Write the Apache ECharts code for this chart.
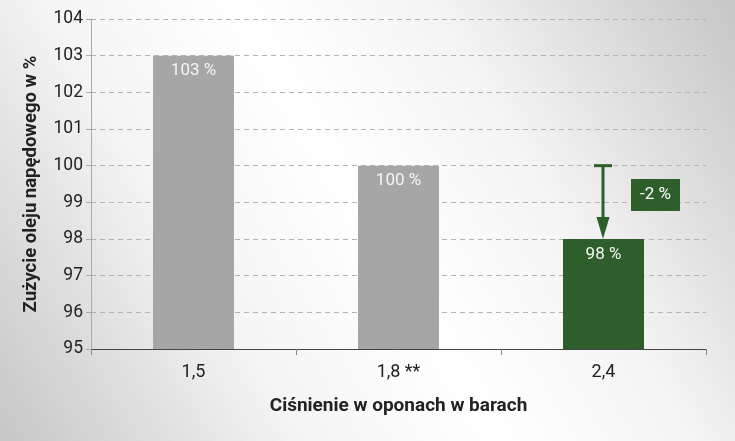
<!DOCTYPE html>
<html>
<head>
<meta charset="utf-8">
<script src="https://cdn.jsdelivr.net/npm/echarts@6/dist/echarts.min.js"></script>
<style>html,body{margin:0;padding:0;}#c{width:735px;height:441px;}</style>
</head>
<body>
<div id="c"></div>
<script>
const categories = ['1,5', '1,8 **', '2,4'];
const values = [103, 100, 98];
const barLabels = ['103 %', '100 %', '98 %'];
const yTicks = [95, 96, 97, 98, 99, 100, 101, 102, 103, 104];
const changeFrom = 100;
const changeTo = 98;
const changeLabel = '-2 %';
const changeLabelAt = 99.2;

const GRAY = '#a6a6a6';
const GREEN = '#2e5e2a';
const FONT = 'Roboto';

const chart = echarts.init(document.getElementById('c'));
chart.setOption({
  animation: false,
  backgroundColor: {
    type: 'linear', x: 1, y: 0, x2: 0, y2: 1,
    colorStops: [
      {offset: 0, color: '#c6c6c6'},
      {offset: 0.3, color: '#f4f4f4'},
      {offset: 0.5, color: '#ffffff'},
      {offset: 0.7, color: '#f4f4f4'},
      {offset: 1, color: '#c6c6c6'}
    ]
  },
  grid: {left: 91, right: 29, top: 19, bottom: 92},
  xAxis: {
    type: 'category',
    data: categories,
    name: 'Ciśnienie w oponach w barach',
    nameLocation: 'middle',
    nameGap: 48,
    nameTextStyle: {fontFamily: FONT, fontSize: 19, fontWeight: 'bold', color: '#222'},
    axisLine: {lineStyle: {color: '#444', width: 1}},
    axisTick: {show: true, length: 6, lineStyle: {color: '#888'}},
    axisLabel: {fontFamily: FONT, fontSize: 18, color: '#222', margin: 14}
  },
  yAxis: {
    type: 'value',
    min: yTicks[0],
    max: yTicks[yTicks.length - 1],
    interval: 1,
    name: 'Zużycie oleju napędowego w %',
    nameLocation: 'middle',
    nameGap: 50,
    nameTextStyle: {fontFamily: FONT, fontSize: 18.5, fontWeight: 'bold', color: '#222'},
    axisLine: {show: true, lineStyle: {color: '#aaa', width: 1}},
    axisTick: {show: true, length: 5, lineStyle: {color: '#aaa'}},
    axisLabel: {fontFamily: FONT, fontSize: 17.5, color: '#222', margin: 8},
    splitLine: {show: true, lineStyle: {color: '#b4b4b4', type: [5, 4], width: 1}}
  },
  series: [
    {
      type: 'bar',
      barWidth: 81,
      data: values.map((v, i) => ({
        value: v,
        itemStyle: {color: i === 2 ? GREEN : GRAY},
        label: {
          show: true, position: 'insideTop', distance: 7,
          formatter: barLabels[i], color: '#f6f6f6',
          fontFamily: FONT, fontSize: 17
        }
      }))
    },
    {
      type: 'custom',
      data: [[2, changeFrom, changeTo, changeLabelAt]],
      z: 10,
      renderItem: function (params, api) {
        const p1 = api.coord([api.value(0), api.value(1)]);
        const p2 = api.coord([api.value(0), api.value(2)]);
        const pl = api.coord([api.value(0), api.value(3)]);
        const x = Math.round(p1[0]) - 1;
        return {
          type: 'group',
          children: [
            {type: 'line', shape: {x1: x, y1: p1[1], x2: x, y2: p2[1] - 18},
              style: {stroke: GREEN, lineWidth: 3}},
            {type: 'line', shape: {x1: x - 9, y1: p1[1], x2: x + 9, y2: p1[1]},
              style: {stroke: GREEN, lineWidth: 3}},
            {type: 'polygon', shape: {points: [[x - 6.5, p2[1] - 22], [x + 6.5, p2[1] - 22], [x, p2[1]]]},
              style: {fill: GREEN}},
            {type: 'rect', shape: {x: x + 28, y: pl[1] - 16, width: 49, height: 32},
              style: {fill: GREEN}},
            {type: 'text', x: x + 52.5, y: pl[1],
              style: {text: changeLabel, fill: '#fff', fontFamily: FONT, fontSize: 17,
                align: 'center', verticalAlign: 'middle'}}
          ]
        };
      }
    }
  ]
});
</script>
</body>
</html>
